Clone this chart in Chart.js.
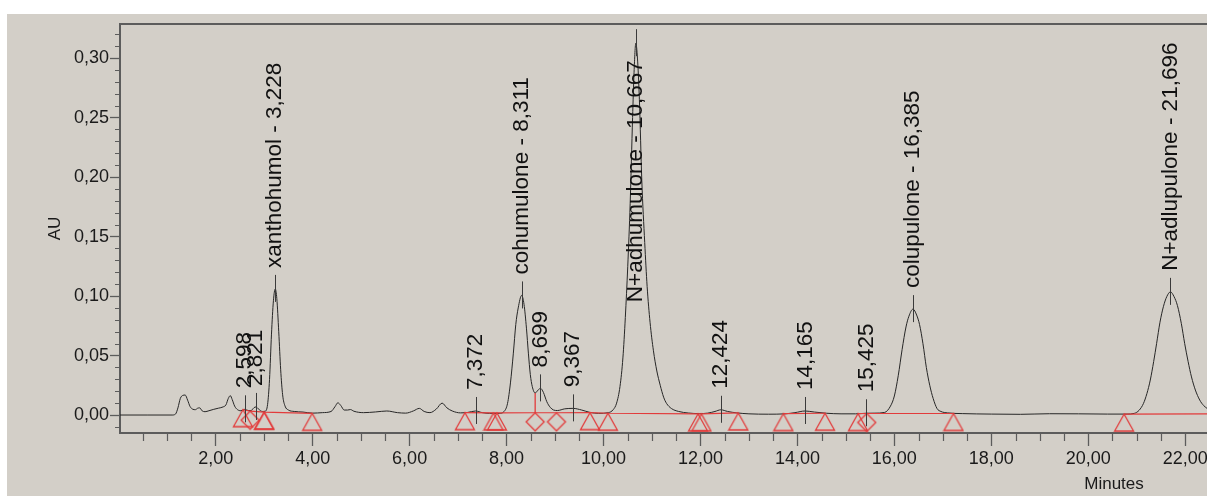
<!DOCTYPE html>
<html>
<head>
<meta charset="utf-8">
<title>Chromatogram</title>
<script src="https://cdn.jsdelivr.net/npm/chart.js@4.4.1/dist/chart.umd.min.js"></script>
<style>
  html, body { margin: 0; padding: 0; background: #ffffff; }
  #panel { position: absolute; left: 7px; top: 14px; width: 1200px; height: 482px; background: #d3cfc8; }
  canvas { display: block; }
</style>
</head>
<body>
<div id="panel"><canvas id="chrom" width="1200" height="482"></canvas></div>
<script>
// ---- detector trace (retention time in minutes, absorbance in AU) ----
const traceTime = [
  0.00, 0.60, 1.10, 1.17, 1.22, 1.27, 1.32, 1.37, 1.42, 1.47, 1.53, 1.58, 1.63, 1.67, 1.72, 1.78,
  1.86, 1.96, 2.06, 2.15, 2.21, 2.26, 2.30, 2.34, 2.39, 2.45, 2.52, 2.60, 2.67, 2.73, 2.79, 2.83,
  2.89, 2.96, 3.02, 3.07, 3.11, 3.15, 3.19, 3.228, 3.26, 3.30, 3.34, 3.38, 3.43, 3.50, 3.62, 3.80,
  4.00, 4.20, 4.38, 4.46, 4.52, 4.58, 4.65, 4.72, 4.78, 4.85, 5.05, 5.30, 5.53, 5.75, 5.92, 6.08,
  6.20, 6.30, 6.42, 6.55, 6.67, 6.77, 6.88, 7.05, 7.20, 7.36, 7.50, 7.65, 7.85, 7.95, 8.02, 8.08,
  8.14, 8.19, 8.24, 8.311, 8.36, 8.41, 8.45, 8.49, 8.53, 8.59, 8.65, 8.70, 8.76, 8.83, 8.90, 8.97,
  9.05, 9.20, 9.37, 9.55, 9.72, 9.90, 10.10, 10.20, 10.27, 10.34, 10.40, 10.45, 10.50, 10.55, 10.60, 10.63,
  10.667, 10.70, 10.74, 10.79, 10.85, 10.90, 10.96, 11.03, 11.10, 11.17, 11.24, 11.30, 11.40, 11.55, 11.75, 11.98,
  12.15, 12.30, 12.42, 12.56, 12.75, 13.00, 13.40, 13.75, 13.95, 14.16, 14.35, 14.60, 14.90, 15.20, 15.42, 15.60,
  15.80, 15.92, 16.00, 16.08, 16.16, 16.24, 16.30, 16.385, 16.46, 16.52, 16.59, 16.66, 16.73, 16.80, 16.88, 16.96,
  17.10, 17.40, 18.00, 18.60, 19.20, 19.80, 20.40, 20.80, 20.95, 21.05, 21.14, 21.21, 21.28, 21.35, 21.41, 21.48,
  21.55, 21.62, 21.696, 21.77, 21.84, 21.92, 21.99, 22.06, 22.13, 22.21, 22.30, 22.38, 22.45
];
const traceAU = [
  0.0000, 0.0000, 0.0000, 0.0008, 0.0060, 0.0140, 0.0165, 0.0168, 0.0125, 0.0072, 0.0048, 0.0045, 0.0058, 0.0060, 0.0035, 0.0028,
  0.0036, 0.0048, 0.0058, 0.0068, 0.0085, 0.0140, 0.0163, 0.0130, 0.0075, 0.0045, 0.0036, 0.0048, 0.0038, 0.0038, 0.0062, 0.0068,
  0.0048, 0.0030, 0.0032, 0.0090, 0.0300, 0.0680, 0.0960, 0.1060, 0.0980, 0.0700, 0.0380, 0.0170, 0.0075, 0.0042, 0.0030, 0.0025,
  0.0016, 0.0020, 0.0030, 0.0070, 0.0103, 0.0080, 0.0042, 0.0042, 0.0046, 0.0032, 0.0020, 0.0026, 0.0034, 0.0020, 0.0016, 0.0035,
  0.0056, 0.0030, 0.0020, 0.0050, 0.0100, 0.0060, 0.0034, 0.0018, 0.0022, 0.0034, 0.0020, 0.0014, 0.0014, 0.0030, 0.0098, 0.0270,
  0.0520, 0.0760, 0.0900, 0.1005, 0.0930, 0.0730, 0.0520, 0.0340, 0.0240, 0.0185, 0.0210, 0.0224, 0.0190, 0.0112, 0.0065, 0.0042,
  0.0038, 0.0052, 0.0056, 0.0042, 0.0022, 0.0014, 0.0020, 0.0045, 0.0100, 0.0240, 0.0480, 0.0820, 0.1250, 0.1780, 0.2500, 0.2880,
  0.3125, 0.3000, 0.2650, 0.1970, 0.1450, 0.1080, 0.0780, 0.0540, 0.0370, 0.0250, 0.0150, 0.0098, 0.0055, 0.0030, 0.0017, 0.0012,
  0.0016, 0.0030, 0.0044, 0.0030, 0.0018, 0.0010, 0.0007, 0.0010, 0.0020, 0.0034, 0.0025, 0.0015, 0.0010, 0.0010, 0.0015, 0.0016,
  0.0022, 0.0075, 0.0160, 0.0330, 0.0550, 0.0740, 0.0830, 0.0890, 0.0840, 0.0760, 0.0600, 0.0400, 0.0250, 0.0140, 0.0055, 0.0030,
  0.0018, 0.0012, 0.0008, 0.0006, 0.0011, 0.0010, 0.0008, 0.0008, 0.0014, 0.0040, 0.0098, 0.0180, 0.0294, 0.0450, 0.0600, 0.0780,
  0.0910, 0.0995, 0.1035, 0.0995, 0.0920, 0.0770, 0.0600, 0.0450, 0.0320, 0.0210, 0.0126, 0.0080, 0.0056
];

// ---- integration baseline (null breaks the line between peak groups) ----
const baseTime = [2.56, 2.71, 3.00, 3.99, null, 7.14, 7.73, 7.80, 8.59, 9.03, 9.72, 10.09, 11.95, 12.02, 12.78, null,
                  13.71, 14.57, null, 15.25, 15.43, 17.22, null, 20.74, 22.45];
const baseAU   = [0.0045, 0.0032, 0.0024, 0.0014, null, 0.0020, 0.0018, 0.0018, 0.0019, 0.0019, 0.0020, 0.0015, 0.0010, 0.0010, 0.0018, null,
                  0.0012, 0.0015, null, 0.0012, 0.0013, 0.0013, null, 0.0008, 0.0010];

// peak start / end marks
const triTime = [2.56, 3.00, 3.00, 3.99, 7.14, 7.73, 7.80, 9.72, 10.09, 11.95, 12.02, 12.78, 13.71, 14.57, 15.25, 17.22, 20.74];
const triAU   = [0.0045, 0.0024, 0.0024, 0.0014, 0.0020, 0.0018, 0.0018, 0.0020, 0.0015, 0.0010, 0.0010, 0.0018, 0.0012, 0.0015, 0.0012, 0.0013, 0.0008];
// valley drop marks
const diaTime = [2.71, 8.59, 9.03, 15.43];
const diaAU   = [0.0032, 0.0019, 0.0019, 0.0013];
// drop line from the baseline up to the valley at 8.59 min
const dropTime = [8.59, 8.59];
const dropAU   = [0.0019, 0.0185];

// ---- named peaks ----
const peakTime = [2.598, 2.821, 3.228, 7.372, 8.311, 8.699, 9.367, 10.667, 12.424, 14.165, 15.425, 16.385, 21.696];
const peakAU   = [0.0048, 0.0068, 0.1060, 0.0034, 0.1005, 0.0224, 0.0056, 0.3125, 0.0044, 0.0034, 0.0015, 0.0890, 0.1035];
const peakName = ['', '', 'xanthohumol', '', 'cohumulone', '', '', 'N+adhumulone', '', '', '', 'colupulone', 'N+adlupulone'];

// ---- axes ----
const xTickValues = [2, 4, 6, 8, 10, 12, 14, 16, 18, 20, 22];
const yTickValues = [0.00, 0.05, 0.10, 0.15, 0.20, 0.25, 0.30];
const X_MIN = 0.025, X_MAX = 22.45;
const Y_MIN = -0.0151, Y_MAX = 0.3286;
const X_MINOR_STEP = 0.5, Y_MINOR_STEP = 0.01;
const xTitle = 'Minutes';
const yTitle = 'AU';

const AXIS = '#5c5c5c';
const RED = '#e23b3b';
const FONT = '"Liberation Sans", Arial, Helvetica, sans-serif';
const comma = (v, d) => v.toFixed(d).replace('.', ',');
const pts = (xs, ys) => xs.map((x, i) => (x === null ? { x: NaN, y: null } : { x: x, y: ys[i] }));

// marker glyphs: the tip of each shape sits exactly at the image centre,
// so the shape hangs below the baseline point it marks
function markGlyph(kind) {
  const w = 22, h = 44;
  const c = document.createElement('canvas');
  c.width = w; c.height = h;
  const g = c.getContext('2d');
  g.strokeStyle = RED;
  g.lineWidth = 1.3;
  g.beginPath();
  const cx = w / 2, cy = h / 2;
  if (kind === 'tri') {
    g.moveTo(cx, cy);
    g.lineTo(cx + 9.5, cy + 17);
    g.lineTo(cx - 9.5, cy + 17);
  } else {
    g.moveTo(cx, cy);
    g.lineTo(cx + 9, cy + 9);
    g.lineTo(cx, cy + 18);
    g.lineTo(cx - 9, cy + 9);
  }
  g.closePath();
  g.stroke();
  return c;
}

// short unlabelled ticks between the labelled ones, plus the axis captions
const minorTicks = {
  id: 'minorTicks',
  afterDraw(chart) {
    const { ctx } = chart;
    const xs = chart.scales.x, ys = chart.scales.y;
    ctx.save();
    ctx.strokeStyle = AXIS;
    ctx.lineWidth = 1.2;
    ctx.beginPath();
    for (let k = 1; k * X_MINOR_STEP <= X_MAX; k++) {
      const v = k * X_MINOR_STEP;
      if (k % 4 === 0) continue;
      const px = Math.round(xs.getPixelForValue(v)) + 0.5;
      ctx.moveTo(px, xs.top + 1);
      ctx.lineTo(px, xs.top + 8);
    }
    for (let k = Math.ceil(Y_MIN / Y_MINOR_STEP); k * Y_MINOR_STEP <= Y_MAX; k++) {
      if (k % 5 === 0) continue;
      const py = Math.round(ys.getPixelForValue(k * Y_MINOR_STEP)) + 0.5;
      ctx.moveTo(ys.right - 5, py);
      ctx.lineTo(ys.right, py);
    }
    ctx.stroke();

    ctx.fillStyle = '#1a1a1a';
    ctx.font = '17px ' + FONT;
    ctx.textAlign = 'center';
    ctx.textBaseline = 'middle';
    ctx.fillText(xTitle, 1107, 470);
    ctx.translate(48, (chart.chartArea.top + chart.chartArea.bottom) / 2);
    ctx.rotate(-Math.PI / 2);
    ctx.fillText(yTitle, 0, 0);
    ctx.restore();
  }
};

// retention-time labels standing on each named peak
const peakLabels = {
  id: 'peakLabels',
  afterDatasetsDraw(chart) {
    const { ctx, chartArea } = chart;
    const xs = chart.scales.x, ys = chart.scales.y;
    ctx.save();
    ctx.font = '22.5px ' + FONT;
    ctx.fillStyle = '#111111';
    ctx.strokeStyle = '#3a3a3a';
    ctx.lineWidth = 1;
    ctx.textAlign = 'left';
    ctx.textBaseline = 'middle';
    peakTime.forEach((t, i) => {
      const px = Math.round(xs.getPixelForValue(t)) + 0.5;
      const py = ys.getPixelForValue(peakAU[i]);
      ctx.beginPath();
      ctx.moveTo(px, py - 14);
      ctx.lineTo(px, py + 13);
      ctx.stroke();
      const text = (peakName[i] ? peakName[i] + ' - ' : '') + comma(t, 3);
      const len = ctx.measureText(text).width;
      let start = py - 21;
      if (start - len < chartArea.top + 4) start = py + 17 + len;
      ctx.save();
      ctx.translate(xs.getPixelForValue(t), start);
      ctx.rotate(-Math.PI / 2);
      ctx.fillText(text, 0, 0);
      ctx.restore();
    });
    ctx.restore();
  }
};

const tickFont = { family: FONT, size: 18 };

new Chart(document.getElementById('chrom'), {
  type: 'line',
  data: {
    datasets: [
      { label: 'start/end', data: pts(triTime, triAU), showLine: false, pointStyle: markGlyph('tri'), pointRadius: 10, order: 0 },
      { label: 'valley', data: pts(diaTime, diaAU), showLine: false, pointStyle: markGlyph('dia'), pointRadius: 10, order: 0 },
      { label: 'drop', data: pts(dropTime, dropAU), borderColor: RED, borderWidth: 1.3, pointRadius: 0, order: 1 },
      { label: 'baseline', data: pts(baseTime, baseAU), borderColor: RED, borderWidth: 1.2, pointRadius: 0, spanGaps: false, order: 1 },
      { label: 'trace', data: pts(traceTime, traceAU), borderColor: '#262626', borderWidth: 1, pointRadius: 0,
        cubicInterpolationMode: 'monotone', order: 2 }
    ]
  },
  options: {
    responsive: false,
    animation: false,
    devicePixelRatio: 1,
    layout: { padding: 0, autoPadding: false },
    plugins: { legend: { display: false }, tooltip: { enabled: false } },
    scales: {
      x: {
        type: 'linear', position: 'bottom', bounds: 'data', min: X_MIN, max: X_MAX,
        afterBuildTicks(s) { s.ticks = xTickValues.map(v => ({ value: v })); },
        ticks: { font: tickFont, color: '#1a1a1a', padding: 2, maxRotation: 0, autoSkip: false,
                 callback: v => comma(v, 2) },
        grid: { drawOnChartArea: false, drawTicks: true, tickLength: 13, tickColor: AXIS, tickWidth: 1.3 },
        border: { display: true, color: AXIS, width: 2 },
        afterFit(s) { s.height = 63; s.paddingLeft = 0; s.paddingRight = 0; }
      },
      xTop: {
        type: 'linear', position: 'top', bounds: 'data', min: X_MIN, max: X_MAX,
        ticks: { display: false },
        grid: { drawOnChartArea: false, drawTicks: false },
        border: { display: true, color: AXIS, width: 2 },
        afterFit(s) { s.height = 10; s.paddingLeft = 0; s.paddingRight = 0; }
      },
      y: {
        type: 'linear', position: 'left', bounds: 'data', min: Y_MIN, max: Y_MAX,
        afterBuildTicks(s) { s.ticks = yTickValues.map(v => ({ value: v })); },
        ticks: { font: tickFont, color: '#1a1a1a', padding: 1, callback: v => comma(v, 2) },
        grid: { drawOnChartArea: false, drawTicks: true, tickLength: 10, tickColor: AXIS, tickWidth: 1.3 },
        border: { display: true, color: AXIS, width: 2 },
        afterFit(s) { s.width = 113; s.paddingTop = 0; s.paddingBottom = 0; }
      }
    }
  },
  plugins: [minorTicks, peakLabels]
});
</script>
</body>
</html>
